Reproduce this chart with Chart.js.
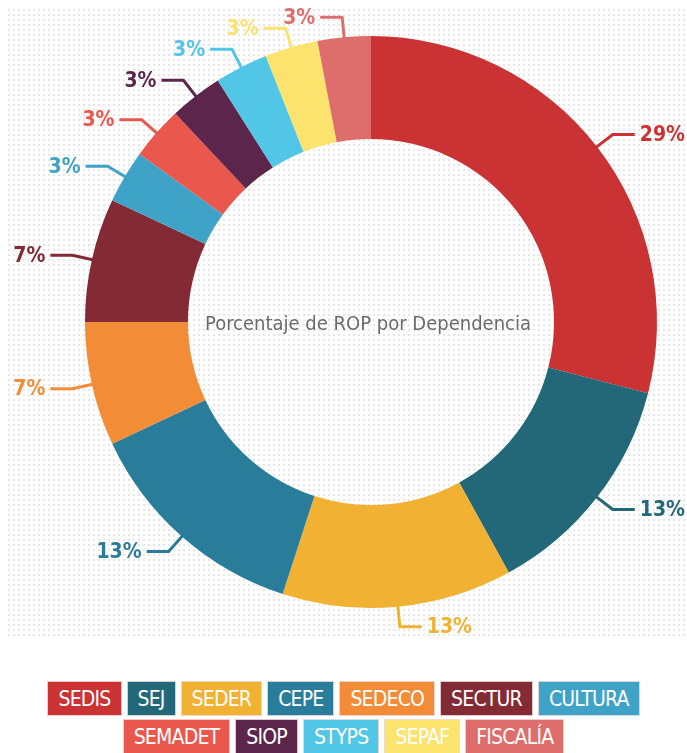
<!DOCTYPE html>
<html>
<head>
<meta charset="utf-8">
<script src="https://cdn.jsdelivr.net/npm/chart.js@4/dist/chart.umd.min.js"></script>
<style>
  body { margin: 0; background: #fff; width: 687px; height: 753px; overflow: hidden; position: relative; }
  #wrap { position: absolute; left: 0; top: 0; width: 687px; height: 660px; }
  #legend { position: absolute; left: 0; top: 681px; width: 687px; }
  .row { display: flex; justify-content: center; gap: 5px; margin-bottom: 3px; }
  .item {
    height: 33px; line-height: 34px; padding: 0 10px; color: #fff;
    font-family: "Liberation Sans Narrow", "DejaVu Sans Condensed", "Roboto Condensed", Roboto, sans-serif;
    font-stretch: condensed; font-size: 21px; letter-spacing: -0.8px;
    border: 1px solid rgba(235,220,220,0.9);
  }
</style>
</head>
<body>
<div id="wrap"><canvas id="chart"></canvas></div>
<div id="legend"></div>
<script>
const dependencias = ['SEDIS', 'SEJ', 'SEDER', 'CEPE', 'SEDECO', 'SECTUR', 'CULTURA',
  'SEMADET', 'SIOP', 'STYPS', 'SEPAF', 'FISCALÍA'];
const porcentajes = [29, 13, 13, 13, 7, 7, 3, 3, 3, 3, 3, 3];
const colores = ['#CB3234', '#236878', '#F1B132', '#2A7D9A', '#F28C36', '#832A35', '#3FA2C7',
  '#E9574D', '#5C264C', '#52C6E6', '#FBE36E', '#DE6E6C'];
const titulo = 'Porcentaje de ROP por Dependencia';
const legendRowBreak = 7;

const labelFont = 'bold 21px "Liberation Sans Narrow", "DejaVu Sans Condensed", "Roboto Condensed", Roboto, sans-serif';
const titleFont = '20px "Liberation Sans Narrow", "DejaVu Sans Condensed", "Roboto Condensed", Roboto, sans-serif';

// fondo punteado
const dotsPlugin = {
  id: 'dots',
  beforeDraw(chart) {
    const ctx = chart.ctx;
    ctx.save();
    ctx.fillStyle = '#e6e6e6';
    for (let y = 9; y < 636; y += 5) {
      for (let x = 8; x < chart.width; x += 5) {
        ctx.fillRect(x, y, 2, 2);
      }
    }
    ctx.restore();
  }
};

// etiquetas con líneas guía y texto central
const calloutPlugin = {
  id: 'callouts',
  afterDatasetsDraw(chart) {
    const ctx = chart.ctx;
    const meta = chart.getDatasetMeta(0);
    ctx.save();
    meta.data.forEach((arc, i) => {
      const p = arc.getProps(['x', 'y', 'startAngle', 'endAngle', 'outerRadius'], true);
      const mid = (p.startAngle + p.endAngle) / 2;
      const r0 = p.outerRadius - 2;
      const r1 = p.outerRadius + 20;
      const x0 = p.x + Math.cos(mid) * r0, y0 = p.y + Math.sin(mid) * r0;
      const x1 = p.x + Math.cos(mid) * r1, y1 = p.y + Math.sin(mid) * r1;
      const side = Math.cos(mid) >= 0 ? 1 : -1;
      const x2 = x1 + side * 22;
      ctx.strokeStyle = colores[i];
      ctx.lineWidth = 3;
      ctx.lineJoin = 'round';
      ctx.beginPath();
      ctx.moveTo(x0, y0);
      ctx.lineTo(x1, y1);
      ctx.lineTo(x2, y1);
      ctx.stroke();
      ctx.fillStyle = colores[i];
      ctx.font = labelFont;
      ctx.textAlign = side > 0 ? 'left' : 'right';
      ctx.textBaseline = 'middle';
      ctx.fillText(porcentajes[i] + '%', x2 + side * 5, y1 + 1);
    });
    const a = meta.data[0];
    ctx.fillStyle = '#6b6b6b';
    ctx.font = titleFont;
    ctx.textAlign = 'center';
    ctx.textBaseline = 'middle';
    ctx.fillText(titulo, a.x - 3, a.y + 3);
    ctx.restore();
  }
};

const chart = new Chart(document.getElementById('chart'), {
  type: 'doughnut',
  data: {
    labels: dependencias,
    datasets: [{
      data: porcentajes,
      backgroundColor: colores,
      borderWidth: 0
    }]
  },
  options: {
    responsive: true,
    maintainAspectRatio: false,
    animation: false,
    cutout: '64%',
    layout: { padding: { left: 85, right: 30, top: 36, bottom: 52 } },
    plugins: {
      legend: { display: false },
      tooltip: { enabled: false }
    }
  },
  plugins: [dotsPlugin, calloutPlugin]
});

// leyenda
const legend = document.getElementById('legend');
[dependencias.slice(0, legendRowBreak), dependencias.slice(legendRowBreak)].forEach((row, r) => {
  const div = document.createElement('div');
  div.className = 'row';
  row.forEach((name, j) => {
    const i = r * legendRowBreak + j;
    const span = document.createElement('span');
    span.className = 'item';
    span.style.background = colores[i];
    span.textContent = name;
    div.appendChild(span);
  });
  legend.appendChild(div);
});
</script>
</body>
</html>
